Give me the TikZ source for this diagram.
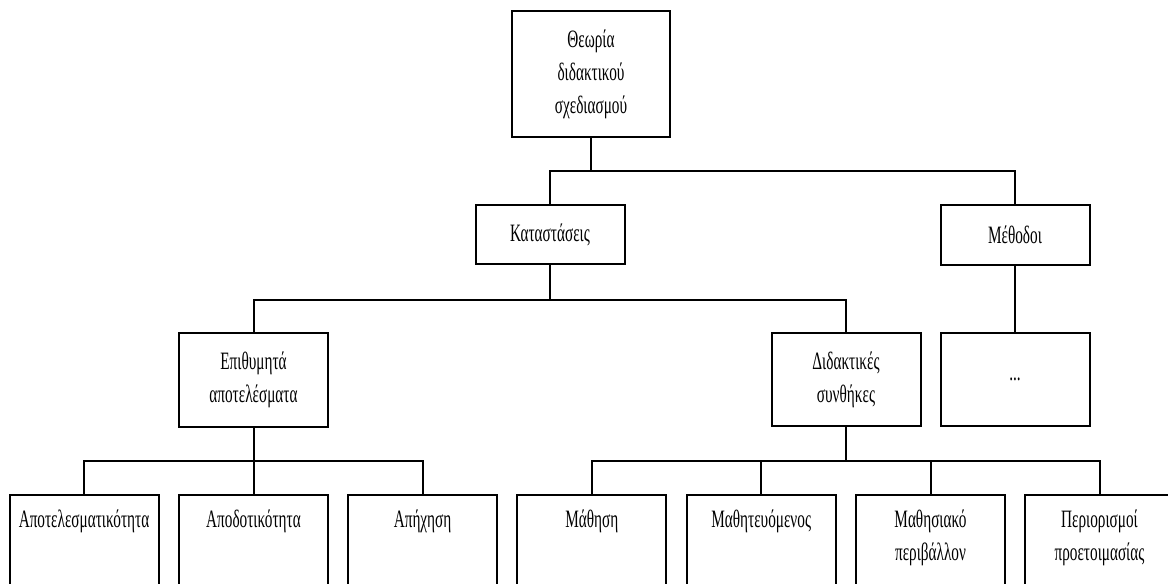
\documentclass[tikz,border=0pt]{standalone}
\usepackage{fontspec}
\setmainfont[FakeStretch=0.61]{Liberation Serif}
\begin{document}
\begin{tikzpicture}[x=1pt,y=-1pt,
  line width=2pt,
  every node/.style={font=\fontsize{25}{30}\selectfont, align=center, inner sep=0pt},
  box/.style={draw, minimum width=149pt},
  leafbox/.style={draw, minimum width=149pt, minimum height=130pt, anchor=north},
  leaftext/.style={anchor=north, yshift=-15pt},
  wire/.style={line width=2pt}]
\useasboundingbox (0,0) rectangle (1168,584);
\clip (0,0) rectangle (1168,584);

% root and second level
\node[box, minimum width=158pt, minimum height=126pt] (root) at (591,74)
  {Θεωρία\\[3pt]διδακτικού\\[3pt]σχεδιασμού};
\node[box, minimum height=59pt] (kat) at (550,234.5) {Καταστάσεις};
\node[box, minimum height=60pt] (meth) at (1015,235) {Μέθοδοι};

% third level
\node[box, minimum height=94pt] (epi) at (253.5,380) {Επιθυμητά\\[3pt]αποτελέσματα};
\node[box, minimum height=93pt] (did) at (846,379.5) {Διδακτικές\\[3pt]συνθήκες};
\node[box, minimum height=93pt] (dots) at (1015,379.5) {...};

% leaves (run past the lower edge)
\node[leafbox] (b1) at (84,494) {};
\node[leafbox] (b2) at (253.5,494) {};
\node[leafbox] (b3) at (422.6,494) {};
\node[leafbox] (b4) at (591.9,494) {};
\node[leafbox] (b5) at (761.2,494) {};
\node[leafbox] (b6) at (930.5,494) {};
\node[leafbox] (b7) at (1099.5,494) {};

\node[leaftext] (t1) at (b1.north) {Αποτελεσματικότητα};
\node[leaftext] (t2) at (b2.north) {Αποδοτικότητα};
\node[leaftext] (t3) at (b3.north) {Απήχηση};
\node[leaftext] (t4) at (b4.north) {Μάθηση};
\node[leaftext] (t5) at (b5.north) {Μαθητευόμενος};
\node[leaftext] (t6) at (b6.north) {Μαθησιακό\\[3pt]περιβάλλον};
\node[leaftext] (t7) at (b7.north) {Περιορισμοί\\[3pt]προετοιμασίας};

% junction points of the tree
\coordinate (j1) at (591,171);
\coordinate (j2) at (550,300);
\coordinate (j3) at (253.5,461);
\coordinate (j4) at (846,461);

% connectors
\draw[wire] (root.south) -- (j1);
\draw[wire] (kat.north) |- (j1) -| (meth.north);
\draw[wire] (kat.south) -- (j2);
\draw[wire] (epi.north) |- (j2) -| (did.north);
\draw[wire] (meth.south) -- (dots.north);
\draw[wire] (epi.south) -- (b2.north);
\draw[wire] (b1.north) |- (j3) -| (b3.north);
\draw[wire] (did.south) -- (j4);
\draw[wire] (b4.north) |- (j4) -| (b7.north);
\draw[wire] (j4 -| b5.north) -- (b5.north);
\draw[wire] (j4 -| b6.north) -- (b6.north);
\end{tikzpicture}
\end{document}
